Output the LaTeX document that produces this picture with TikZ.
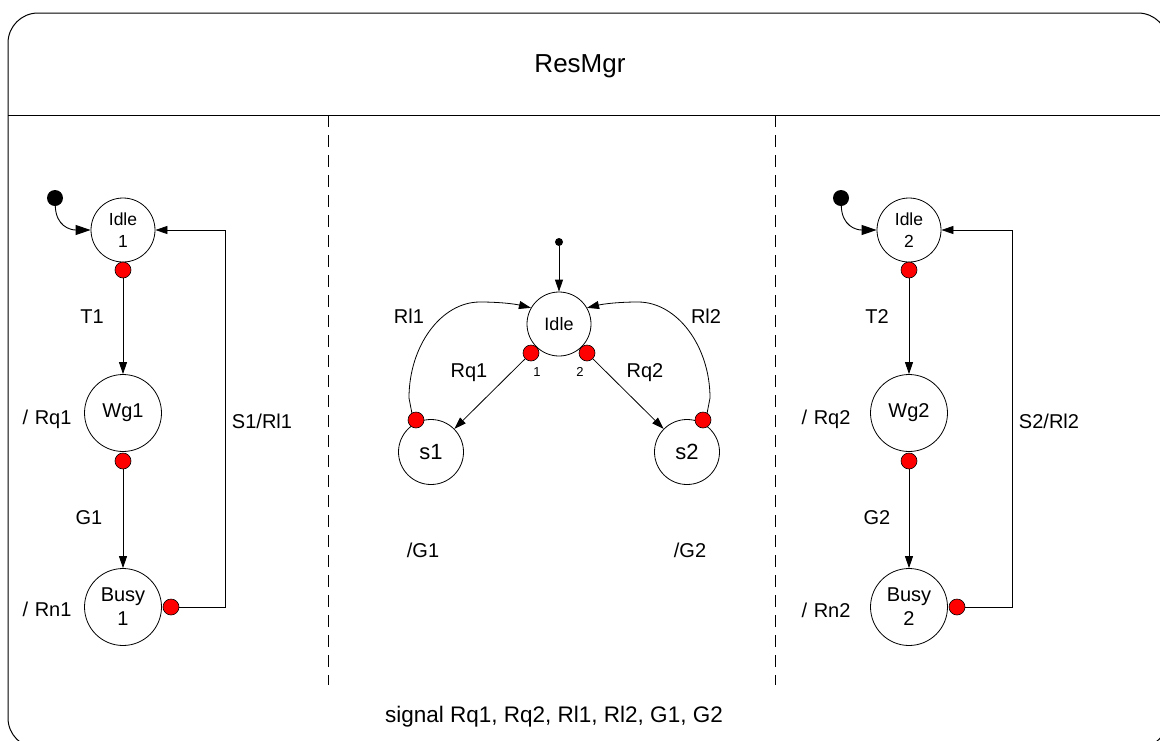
\documentclass[tikz,border=0pt]{standalone}
\usepackage{fontspec}
\setmainfont{Liberation Sans}
\newfontfamily\lblfont[WordSpace=1.2]{Liberation Sans}
\usetikzlibrary{arrows.meta}
\begin{document}
\begin{tikzpicture}[x=1pt,y=-1pt,
 state/.style={circle,draw=black,line width=0.8pt,inner sep=0pt,align=center,font=\fontsize{20}{24}\selectfont},
 istate/.style={state,font=\fontsize{17.5}{22}\selectfont},
 rdot/.style={circle,draw=black,line width=0.6pt,fill=red,minimum size=16pt,inner sep=0pt},
 idot/.style={circle,fill=black,minimum size=16pt,inner sep=0pt},
 lbl/.style={anchor=base,font=\lblfont\fontsize{20}{24}\selectfont,inner sep=0pt},
 small/.style={anchor=base,font=\fontsize{13}{15}\selectfont,inner sep=0pt},
 arr/.style={draw=black,line width=0.8pt,-{Triangle[length=12pt,width=8pt]}},
 iarr/.style={draw=black,line width=0.9pt,-{Triangle[length=15pt,width=10pt]}},
 sep/.style={draw=black,line width=1pt,dash pattern=on 12pt off 8pt}
]
\useasboundingbox (0,0) rectangle (1160,740);
\begin{scope}
\clip (0,0) rectangle (1160,740);
\draw[line width=1pt,rounded corners=30pt] (8,13) rectangle (1168,748);
\coordinate (hl) at (8,115);
\coordinate (hr) at (1168,115);
\draw[line width=1pt] (hl) -- (hr);
\end{scope}
% separators
\coordinate (sa1) at (328,115); \coordinate (sa2) at (328,685);
\coordinate (sb1) at (775,115); \coordinate (sb2) at (775,685);
\draw[sep] (sa1) -- (sa2);
\draw[sep] (sb1) -- (sb2);
% title and signal
\node[anchor=base,inner sep=0pt,font=\fontsize{26}{30}\selectfont] (title) at (580,72) {ResMgr};
\node[anchor=base,inner sep=0pt,font=\fontsize{22.5}{26}\selectfont] (signal) at (554,722) {signal Rq1, Rq2, Rl1, Rl2, G1, G2};

% ---------- left region ----------
\node[idot] (i1) at (55,198) {};
\node[istate,minimum size=64pt] (idle1) at (123,230) {Idle\\1};
\node[state,minimum size=77pt] (wg1) at (123,413) {Wg1};
\node[state,minimum size=77pt] (busy1) at (123,607) {Busy\\1};
\node[rdot] (d1) at (123,270) {};
\node[rdot] (dw1) at (123,461) {};
\node[rdot] (db1) at (171,607) {};
\coordinate (c1) at (225,607);
\draw[iarr] (i1) .. controls (56,226) and (70,230) .. (idle1.west);
\draw[arr] (d1) -- (wg1);
\draw[arr] (dw1) -- (busy1);
\draw[arr] (db1) -- (c1) |- (idle1.east);
\node[lbl] (t1) at (92,323) {T1};
\node[lbl] (g1) at (89,524) {G1};
\node[lbl] (rq1l) at (47,424) {/ Rq1};
\node[lbl] (rn1l) at (47,616) {/ Rn1};
\node[lbl] (s1rl1) at (262,428) {S1/Rl1};

% ---------- right region ----------
\node[idot] (i2) at (841,198) {};
\node[istate,minimum size=64pt] (idle2) at (909,230) {Idle\\2};
\node[state,minimum size=77pt] (wg2) at (909,413) {Wg2};
\node[state,minimum size=77pt] (busy2) at (909,607) {Busy\\2};
\node[rdot] (d2) at (909,270) {};
\node[rdot] (dw2) at (909,461) {};
\node[rdot] (db2) at (957,607) {};
\coordinate (c2) at (1012,607);
\draw[iarr] (i2) .. controls (842,226) and (856,230) .. (idle2.west);
\draw[arr] (d2) -- (wg2);
\draw[arr] (dw2) -- (busy2);
\draw[arr] (db2) -- (c2) |- (idle2.east);
\node[lbl] (t2) at (877,323) {T2};
\node[lbl] (g2) at (877,524) {G2};
\node[lbl] (rq2l) at (826,424) {/ Rq2};
\node[lbl] (rn2l) at (826,617) {/ Rn2};
\node[lbl] (s2rl2) at (1049,428) {S2/Rl2};

% ---------- centre region ----------
\node[idot,minimum size=8pt] (i0) at (559,242) {};
\node[state,minimum size=64pt,font=\fontsize{18}{21}\selectfont] (idle) at (559,324) {Idle};
\node[state,minimum size=65pt,font=\fontsize{22}{26}\selectfont] (s1) at (431,452) {s1};
\node[state,minimum size=65pt,font=\fontsize{22}{26}\selectfont] (s2) at (687,452) {s2};
\node[rdot] (dI1) at (531,353) {};
\node[rdot] (dI2) at (587,353) {};
\node[rdot] (ds1) at (416,420) {};
\node[rdot] (ds2) at (703,420) {};
\draw[arr] (i0) -- (idle);
\draw[arr] (dI1) -- (s1);
\draw[arr] (dI2) -- (s2);
\draw[arr] (ds1.120) -- (409,398) .. controls (409,346) and (441,302) .. (480,302)
   .. controls (500,302) and (515,304) .. (idle.150);
\draw[arr] (ds2.60) -- (710,398) .. controls (710,346) and (677,302) .. (638,302)
   .. controls (618,302) and (603,304) .. (idle.30);
\node[lbl] (rl1) at (409,323) {Rl1};
\node[lbl] (rl2) at (706,323) {Rl2};
\node[lbl] (rq1) at (469,377) {Rq1};
\node[lbl] (rq2) at (645,377) {Rq2};
\node[small] (n1) at (537,376) {1};
\node[small] (n2) at (580,376) {2};
\node[lbl] (g1o) at (423,557) {/G1};
\node[lbl] (g2o) at (690,557) {/G2};
\end{tikzpicture}
\end{document}
